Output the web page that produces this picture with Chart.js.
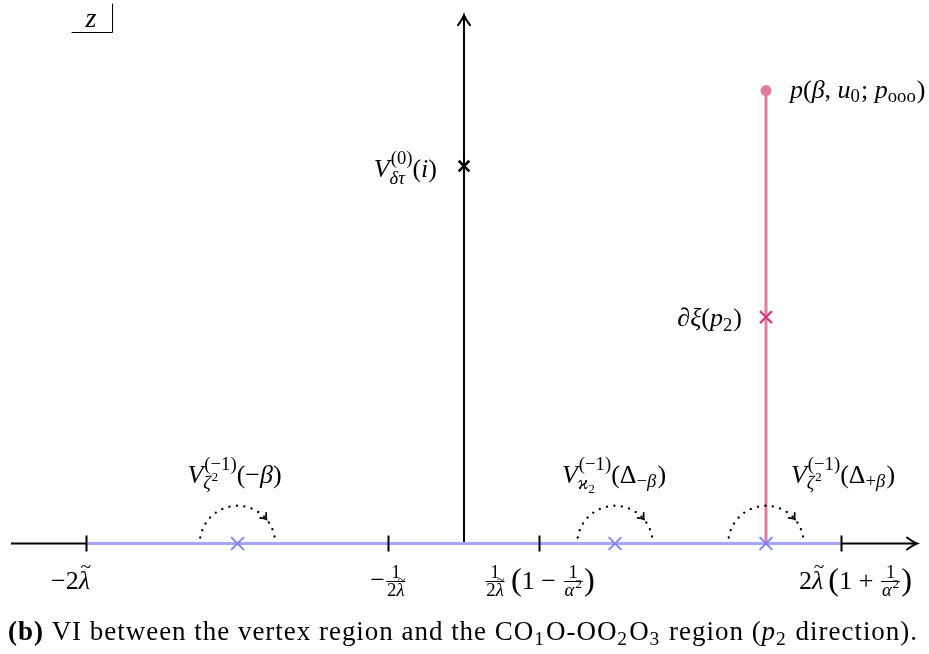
<!DOCTYPE html>
<html>
<head>
<meta charset="utf-8">
<script src="https://cdn.jsdelivr.net/npm/chart.js@4.4.1/dist/chart.umd.min.js"></script>
<style>
  html, body { margin: 0; padding: 0; background: #fff; }
</style>
</head>
<body>
<canvas id="chart" width="929" height="654"></canvas>
<script>
// geometry of the z-plane picture (tikz units)
const axisX = [-6, 6];          // real axis extent
const axisY = [0, 7];           // imaginary axis extent
const cutRange = [-5, 5];       // blue cut along the real axis
const tickPositions = [-5, -1, 1, 5];
const blueCrossX = [-3, 2, 4];  // poles on the cut, each with a dotted loop
const vertexCross = [0, 5];     // V_{δτ}^{(0)}(i)
const pinkCross = [4, 3];       // ∂ξ(p2)
const pinkEnd = [4, 6];         // p(β,u0;pooo)
const loopRadius = 0.5;

const BLUE_LINE = '#a6a6fc';
const BLUE_X = '#8282f5';
const PINK = '#e07ba1';
const PINK_X = '#d5447e';

const FAM = '"Liberation Serif", "DejaVu Serif", serif';
const SCR = 0.72;   // script size ratio
function fontOf(f, s) {
    return (f === 'i' ? 'italic ' : '') + (f === 'b' ? 'bold ' : '') + s + 'px ' + FAM;
}
const I = (t, o) => Object.assign({t: t, f: 'i'}, o || {});
const R = (t, o) => Object.assign({t: t, f: 'r'}, o || {});
const B = (t, o) => Object.assign({t: t, f: 'b'}, o || {});
const sp = w => ({sp: w});
const sub = items => ({ss: [null, items]});
const sup = items => ({ss: [items, null]});
const supsub = (a, b) => ({ss: [a, b]});
const frac = (n, d) => ({frac: [n, d]});

let spacing = 0;
function measure(ctx, items, size) {
    let w = 0;
    for (const it of items) w += itemWidth(ctx, it, size);
    return w;
}
function itemWidth(ctx, it, size) {
    if (it.sp !== undefined) return it.sp * size;
    if (it.ss) {
        return Math.max(it.ss[0] ? measure(ctx, it.ss[0], size * SCR) : 0,
                        it.ss[1] ? measure(ctx, it.ss[1], size * SCR) : 0) + size * 0.04;
    }
    if (it.frac) {
        return Math.max(measure(ctx, it.frac[0], size * SCR), measure(ctx, it.frac[1], size * SCR)) + size * 0.16;
    }
    ctx.font = fontOf(it.f, size * (it.s || 1));
    return ctx.measureText(it.t).width + spacing * [...it.t].length;
}
function drawText(ctx, t, x, y) {
    if (!spacing) { ctx.fillText(t, x, y); return; }
    for (const ch of t) {
        ctx.fillText(ch, x, y);
        x += ctx.measureText(ch).width + spacing;
    }
}
function render(ctx, items, x, y, size) {
    for (const it of items) {
        const w = itemWidth(ctx, it, size);
        if (it.ss) {
            if (it.ss[0]) render(ctx, it.ss[0], x + size * 0.04, y - size * (it.ss[1] ? 0.5 : 0.42), size * SCR);
            if (it.ss[1]) render(ctx, it.ss[1], x, y + size * (it.ss[0] ? 0.26 : 0.18), size * SCR);
        } else if (it.frac) {
            const s = size * SCR;
            const nw = measure(ctx, it.frac[0], s), dw = measure(ctx, it.frac[1], s);
            const axis = y - size * 0.27;
            render(ctx, it.frac[0], x + (w - nw) / 2, axis - size * 0.12, s);
            render(ctx, it.frac[1], x + (w - dw) / 2, axis + size * 0.56, s);
            ctx.fillRect(x + size * 0.05, axis - 0.5, w - size * 0.1, 1);
        } else if (it.sp === undefined) {
            const s = size * (it.s || 1);
            ctx.font = fontOf(it.f, s);
            drawText(ctx, it.t, x, y + (it.dy || 0) * size);
            if (it.tilde) {
                ctx.font = fontOf('r', s * 0.75);
                const tw = ctx.measureText('~').width;
                ctx.fillText('~', x + w / 2 - tw / 2 + s * 0.06, y - s * 0.58);
            }
        }
        x += w;
    }
}
function countChars(items) {
    let n = 0;
    for (const it of items) {
        if (it.t) n += [...it.t].length;
        else if (it.ss) n += (it.ss[0] ? countChars(it.ss[0]) : 0) + (it.ss[1] ? countChars(it.ss[1]) : 0);
    }
    return n;
}
function drawMath(ctx, items, x, y, size, align, fitWidth) {
    spacing = 0;
    let w = measure(ctx, items, size);
    if (fitWidth) {
        spacing = (fitWidth - w) / countChars(items);
        w = measure(ctx, items, size);
    }
    let x0 = x;
    if (align === 'center') x0 = x - w / 2;
    if (align === 'right') x0 = x - w;
    ctx.fillStyle = '#000';
    ctx.textBaseline = 'alphabetic';
    ctx.textAlign = 'left';
    render(ctx, items, x0, y, size);
    spacing = 0;
}

function arrowHead(ctx, x, y, ang, len, half, lw) {
    ctx.save();
    ctx.translate(x, y);
    ctx.rotate(ang);
    ctx.lineWidth = lw;
    ctx.lineCap = 'round';
    ctx.strokeStyle = '#000';
    ctx.beginPath();
    ctx.moveTo(-len, -half);
    ctx.quadraticCurveTo(-len * 0.35, -half * 0.2, 0, 0);
    ctx.quadraticCurveTo(-len * 0.35, half * 0.2, -len, half);
    ctx.stroke();
    ctx.restore();
}

const lambdaT = I('λ', {tilde: true});
const alpha2 = [I('α'), sup([R('2')])];
const bigL = R('(', {s: 1.25, dy: 0.05}), bigR = R(')', {s: 1.25, dy: 0.05});
const tickLabels = [
    {items: [R('−'), R('2'), lambdaT], dx: -16},
    {items: [R('−', {dy: -0.02}), frac([R('1')], [R('2'), lambdaT])], dx: 0},
    {items: [frac([R('1')], [R('2'), lambdaT]), sp(0.2), bigL, R('1 − '), frac([R('1')], alpha2), bigR], dx: 0},
    {items: [R('2'), lambdaT, sp(0.2), bigL, R('1 + '), frac([R('1')], alpha2), bigR], dx: 14}
];
const zeta2 = [I('ζ'), sup([R('2')])];
const loopLabels = [
    [I('V'), supsub([R('(−1)')], zeta2), R('(−'), I('β'), R(')')],
    [I('V'), supsub([R('(−1)')], [I('ϰ'), sub([R('2')])]), R('(Δ'), sub([R('−'), I('β')]), R(')')],
    [I('V'), supsub([R('(−1)')], zeta2), R('(Δ'), sub([R('+'), I('β')]), R(')')]
];
const loopLabelOffsets = [[-3, -61], [-1, -61], [77, -61]];
const FS = 26;

const overlay = {
    id: 'overlay',
    afterDatasetsDraw(chart) {
        const ctx = chart.ctx;
        const sx = chart.scales.x, sy = chart.scales.y;
        const px = v => sx.getPixelForValue(v), py = v => sy.getPixelForValue(v);
        ctx.save();
        // axis arrows
        arrowHead(ctx, px(axisX[1]), py(0), 0, 10, 6, 2);
        arrowHead(ctx, px(0), py(axisY[1]), -Math.PI / 2, 10, 6, 2);

        // dotted loops around the poles
        const r = px(loopRadius) - px(0);
        blueCrossX.forEach(c => {
            const cx = px(c), cy = py(0);
            ctx.strokeStyle = '#000';
            ctx.lineWidth = 2.3;
            ctx.lineCap = 'round';
            ctx.setLineDash([0.1, 7.4]);
            ctx.beginPath();
            ctx.arc(cx, cy, r, Math.PI + 0.16, 2 * Math.PI - 0.12);
            ctx.stroke();
            ctx.setLineDash([]);
            const a = -0.7;
            arrowHead(ctx, cx + r * Math.cos(a), cy + r * Math.sin(a), a + Math.PI / 2, 5, 4, 1.7);
        });

        // labels at the marks
        drawMath(ctx, [I('V'), supsub([R('(0)')], [I('δτ')]), R('('), I('i'), R(')')],
                 px(vertexCross[0]) - 27, py(vertexCross[1]) + 11, FS, 'right');
        drawMath(ctx, [I('p'), R('('), I('β'), R(', '), I('u'), sub([R('0')]), R('; '), I('p'), sub([R('ooo')]), R(')')],
                 px(pinkEnd[0]) + 24, py(pinkEnd[1]) + 7, FS, 'left');
        drawMath(ctx, [I('∂ξ'), R('('), I('p'), sub([R('2')]), R(')')],
                 px(pinkCross[0]) - 24, py(pinkCross[1]) + 9, FS, 'right');
        blueCrossX.forEach((c, i) => {
            drawMath(ctx, loopLabels[i], px(c) + loopLabelOffsets[i][0], py(0) + loopLabelOffsets[i][1], FS, 'center');
        });
        tickPositions.forEach((t, i) => {
            drawMath(ctx, tickLabels[i].items, px(t) + tickLabels[i].dx, py(0) + 45, FS, 'center');
        });

        // z box
        ctx.strokeStyle = '#000';
        ctx.lineWidth = 1;
        ctx.beginPath();
        ctx.moveTo(72, 32.5); ctx.lineTo(112.5, 32.5); ctx.lineTo(112.5, 4);
        ctx.stroke();
        drawMath(ctx, [I('z')], 91, 27, 28, 'center');

        // caption
        drawMath(ctx, [B('(b)'), R(' VI between the vertex region and the CO'), sub([R('1')]), R('O-OO'),
                       sub([R('2')]), R('O'), sub([R('3')]), R(' region ('), I('p'), sub([R('2')]),
                       R(' direction).')], 8, 640, 27, 'left', 910);
        ctx.restore();
    }
};

const seg = (a, b) => [{x: a[0], y: a[1]}, {x: b[0], y: b[1]}];
const lineSet = (data, color, width, order) => ({
    data: data, borderColor: color, borderWidth: width, showLine: true,
    pointRadius: 0, order: order, clip: false, borderCapStyle: 'butt'
});

new Chart(document.getElementById('chart'), {
    type: 'scatter',
    data: {
        datasets: [
            lineSet(seg([axisX[0], 0], [axisX[1] - 0.02, 0]), '#000', 2, 20),
            lineSet(seg([0, axisY[0]], [0, axisY[1] - 0.02]), '#000', 2, 19),
            lineSet(seg([cutRange[0], 0], [cutRange[1], 0]), BLUE_LINE, 3, 18),
            lineSet(seg([pinkCross[0], 0], pinkEnd), PINK, 3, 17),
            {
                data: tickPositions.map(t => ({x: t, y: 0})),
                pointStyle: 'line', rotation: 90, pointRadius: 8, borderColor: '#000',
                borderWidth: 2, showLine: false, order: 5, clip: false
            },
            {
                data: blueCrossX.map(c => ({x: c, y: 0})),
                pointStyle: 'crossRot', pointRadius: 9, borderColor: BLUE_X,
                borderWidth: 2, showLine: false, order: 2, clip: false
            },
            {
                data: [{x: vertexCross[0], y: vertexCross[1]}],
                pointStyle: 'crossRot', pointRadius: 7.5, borderColor: '#000',
                borderWidth: 2.6, showLine: false, order: 2, clip: false
            },
            {
                data: [{x: pinkCross[0], y: pinkCross[1]}],
                pointStyle: 'crossRot', pointRadius: 8.5, borderColor: PINK_X,
                borderWidth: 2.4, showLine: false, order: 2, clip: false
            },
            {
                data: [{x: pinkEnd[0], y: pinkEnd[1]}],
                pointStyle: 'circle', pointRadius: 5.5, backgroundColor: PINK, borderColor: PINK,
                borderWidth: 0, showLine: false, order: 2, clip: false
            }
        ]
    },
    options: {
        responsive: false,
        devicePixelRatio: 1,
        animation: false,
        layout: {autoPadding: false, padding: {left: 11, right: 12, top: 0, bottom: 35}},
        plugins: {legend: {display: false}, tooltip: {enabled: false}},
        scales: {
            x: {type: 'linear', min: -6, max: 6, display: false},
            y: {type: 'linear', min: -1, max: 7.2, display: false}
        }
    },
    plugins: [overlay]
});
</script>
</body>
</html>
